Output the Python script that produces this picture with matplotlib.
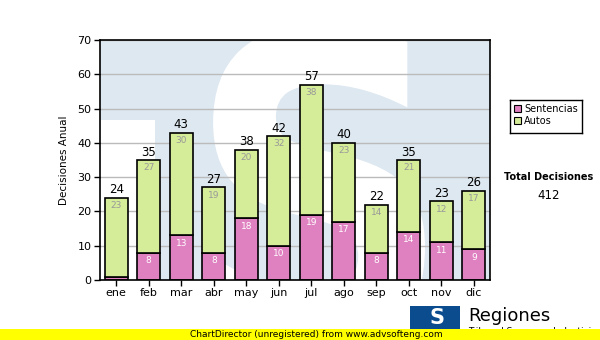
import matplotlib
matplotlib.use("Agg")
import matplotlib.pyplot as plt
import numpy as np
from matplotlib.textpath import TextPath
from matplotlib.font_manager import FontProperties
from matplotlib.patches import PathPatch, Rectangle
from matplotlib.transforms import Affine2D

plt.rcParams['font.family'] = ['DejaVu Sans']

meses = ["ene", "feb", "mar", "abr", "may", "jun", "jul", "ago", "sep", "oct", "nov", "dic"]
sentencias = [1, 8, 13, 8, 18, 10, 19, 17, 8, 14, 11, 9]
autos = [23, 27, 30, 19, 20, 32, 38, 23, 14, 21, 12, 17]
total_label = "Total Decisiones"

ROSA = "#DF80C0"
VERDE = "#D5EC98"
AZUL_CLARO = "#DEE8F1"

fig = plt.figure(figsize=(6, 3.4), dpi=100)
ax = fig.add_axes([100/600, 1-280/340, 390/600, 240/340])
ax.set_facecolor(AZUL_CLARO)

x = np.arange(len(meses))
ax.set_xlim(-0.5, len(meses) - 0.5)
ax.set_ylim(0, 70)

# marca de agua: hueco blanco bajo la barra de la T y la S grande
ax.add_patch(Rectangle((-0.5, 0), 1.69, 46.7, facecolor="white", edgecolor="none", zorder=0))
fp = FontProperties(family="DejaVu Sans", weight="bold")
s_path = TextPath((0, 0), "S", size=1, prop=fp)
ext = s_path.get_extents()
x0, x1, y0, y1 = 2.98, 9.5, -20, 74
tr = (Affine2D().translate(-ext.x0, -ext.y0)
      .scale((x1 - x0) / ext.width, (y1 - y0) / ext.height)
      .translate(x0, y0))
ax.add_patch(PathPatch(tr.transform_path(s_path), facecolor="white", edgecolor="none", zorder=0))

ax.yaxis.grid(True, color="#BBBBBB", linewidth=1, zorder=1)
ax.set_axisbelow(True)

w = 0.71
ax.bar(x, sentencias, w, color=ROSA, edgecolor="black", linewidth=1.2, zorder=2)
ax.bar(x, autos, w, bottom=sentencias, color=VERDE, edgecolor="black", linewidth=1.2, zorder=2)

for i in range(len(meses)):
    s, a = sentencias[i], autos[i]
    t = s + a
    ax.text(x[i], t + 0.4, str(t), ha="center", va="bottom", fontsize=8.5, color="black", zorder=3)
    ax.text(x[i], t - 1.0, str(a), ha="center", va="top", fontsize=6.5, color="#999999", zorder=3)
    if s >= 5:
        ax.text(x[i], s - 1.0, str(s), ha="center", va="top", fontsize=6.5, color="white", zorder=3)

for sp in ax.spines.values():
    sp.set_color("black")
    sp.set_linewidth(1.2)
    sp.set_zorder(4)

ax.set_xticks(x)
ax.set_xticklabels(meses, fontsize=8)
ax.set_yticks(range(0, 71, 10))
ax.tick_params(axis="y", labelsize=8, length=4, width=1, direction="out", pad=2)
ax.tick_params(axis="x", length=4, width=1, direction="out", pad=2)
ax.set_ylabel("Decisiones Anual", fontsize=7.5, labelpad=6)

# leyenda
leg_ax = fig.add_axes([510/600, 1-133/340, 72/600, 33/340])
leg_ax.set_xlim(0, 72)
leg_ax.set_ylim(33, 0)
leg_ax.set_xticks([])
leg_ax.set_yticks([])
for sp in leg_ax.spines.values():
    sp.set_linewidth(1)
for yy, col, lab in [(9, ROSA, "Sentencias"), (21, VERDE, "Autos")]:
    leg_ax.add_patch(Rectangle((4, yy - 3.5), 7, 7, facecolor=col, edgecolor="black", linewidth=0.8))
    leg_ax.text(14, yy, lab, fontsize=7, va="center", ha="left")

fig.text(549/600, 1-177/340, total_label, fontsize=7, fontweight="bold", ha="center", va="center")
fig.text(549/600, 1-196/340, str(sum(sentencias) + sum(autos)), fontsize=8.5, ha="center", va="center")

# logo inferior
fig.patches.append(Rectangle((410/600, 1-336/340), 50/600, 30/340, transform=fig.transFigure,
                             facecolor="#0B4C8F", edgecolor="none", zorder=1))
fig.text(437/600, 1-318/340, "S", fontsize=15, fontweight="bold",
         color="white", ha="center", va="center", zorder=2)
fig.text(468/600, 1-316/340, "Regiones", fontsize=13, ha="left", va="center", zorder=2)
fig.text(468/600, 1-331/340, "Tribunal Supremo de Justicia", fontsize=6.5, ha="left", va="center", zorder=2)

fig.patches.append(Rectangle((0, 0), 1, 11/340, transform=fig.transFigure,
                             facecolor="#FFFF00", edgecolor="none", zorder=5))
fig.text(190/600, 5.5/340, "ChartDirector (unregistered) from www.advsofteng.com", fontsize=6.5,
         ha="left", va="center", zorder=6)

fig.savefig("out.png", dpi=100)
